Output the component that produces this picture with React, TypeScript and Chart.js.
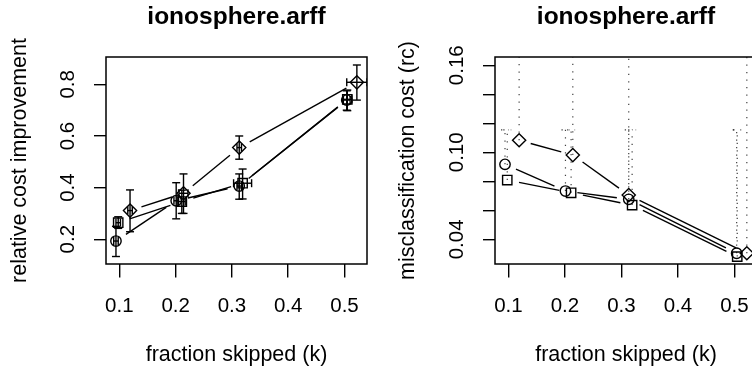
import React, { useEffect, useRef } from 'react';
import { Chart, registerables } from 'chart.js';

Chart.register(...registerables);

const FONT = "'Liberation Sans', Arial, Helvetica, sans-serif";
const TITLE = 'ionosphere.arff';

// shared x axis: fraction skipped (k)
const kTicks = [0.1, 0.2, 0.3, 0.4, 0.5];
const kMin = 0.0763;
const kMax = 0.54;

// x positions of each series
const kCircle = [0.094, 0.201, 0.313, 0.504];
const kSquare = [0.098, 0.211, 0.319, 0.505];
const kDiamond = [0.119, 0.214, 0.313, 0.522];

// horizontal error half-widths
const kErrCircle = [0.004, 0.004, 0.004, 0.006];
const kErrSquare = [0.004, 0.006, 0.016, 0.008];
const kErrDiamond = [0.004, 0.008, 0.004, 0.018];

// relative cost improvement (left panel)
const rciTicks = [0.2, 0.4, 0.6, 0.8];
const rciCircle = [0.193, 0.349, 0.406, 0.739];
const rciCircleLo = [0.133, 0.279, 0.355, 0.7];
const rciCircleHi = [0.25, 0.419, 0.453, 0.775];
const rciSquare = [0.264, 0.346, 0.417, 0.742];
const rciSquareLo = [0.242, 0.3, 0.356, 0.698];
const rciSquareHi = [0.287, 0.39, 0.472, 0.778];
const rciDiamond = [0.311, 0.378, 0.555, 0.808];
const rciDiamondLo = [0.229, 0.3, 0.51, 0.739];
const rciDiamondHi = [0.391, 0.453, 0.6, 0.875];

// misclassification cost (right panel)
const mcTicks = [0.04, 0.06, 0.08, 0.1, 0.12, 0.14, 0.16];
const mcLabelled = [0.04, 0.1, 0.16];
const mcCircle = [0.0917, 0.0733, 0.0676, 0.0304];
const mcCircleHi = [0.1155, 0.1155, 0.1155, 0.1155];
const mcSquare = [0.0809, 0.0721, 0.0636, 0.0281];
const mcSquareHi = [0.1155, 0.1155, 0.1155, 0.1155];
const mcDiamond = [0.1083, 0.0981, 0.0705, 0.0304];
const mcDiamondHi = [0.175, 0.175, 0.175, 0.175];

type Pt = { x: number; y: number; lo: number; hi: number; xe: number };

const pts = (xs: number[], ys: number[], lo: number[], hi: number[], xe: number[]): Pt[] =>
  xs.map((x, i) => ({ x, y: ys[i], lo: lo[i], hi: hi[i], xe: xe[i] }));

const line = (ctx: CanvasRenderingContext2D, x1: number, y1: number, x2: number, y2: number) => {
  ctx.beginPath();
  ctx.moveTo(x1, y1);
  ctx.lineTo(x2, y2);
  ctx.stroke();
};

// error bars, "both"-style connecting segments with gaps, and the frame
const rPlot = {
  id: 'rPlot',
  beforeDatasetsDraw(chart: any, _args: any, opts: any) {
    const { ctx, chartArea: a } = chart;
    const xs = chart.scales.x;
    const ys = chart.scales.y;
    const dotted = !!opts.dotted;
    const cap = 4;
    const gap = 12;
    ctx.save();
    ctx.beginPath();
    ctx.rect(a.left, a.top, a.right - a.left, a.bottom - a.top);
    ctx.clip();
    ctx.strokeStyle = '#000';
    chart.data.datasets.forEach((ds: any, i: number) => {
      const meta = chart.getDatasetMeta(i);
      // error bars
      if (dotted) {
        ctx.setLineDash([1.3, 6.2]);
        ctx.lineWidth = 1.2;
        ctx.strokeStyle = 'rgba(0,0,0,0.75)';
      } else {
        ctx.setLineDash([]);
        ctx.lineWidth = 1.4;
        ctx.strokeStyle = '#000';
      }
      ds.data.forEach((d: Pt) => {
        const px = xs.getPixelForValue(d.x);
        const py = ys.getPixelForValue(d.y);
        const yl = ys.getPixelForValue(d.lo);
        const yh = ys.getPixelForValue(d.hi);
        line(ctx, px, yl, px, yh);
        line(ctx, px - cap, yh, px + cap, yh);
        if (!dotted) line(ctx, px - cap, yl, px + cap, yl);
        if (d.xe > 0 && !dotted) {
          const xl = xs.getPixelForValue(d.x - d.xe);
          const xr = xs.getPixelForValue(d.x + d.xe);
          line(ctx, xl, py, xr, py);
          line(ctx, xl, py - cap, xl, py + cap);
          line(ctx, xr, py - cap, xr, py + cap);
        }
      });
      // connecting segments
      ctx.setLineDash([]);
      ctx.lineWidth = 1.4;
      ctx.strokeStyle = '#000';
      const el = meta.data;
      for (let j = 0; j < el.length - 1; j++) {
        const p0 = el[j];
        const p1 = el[j + 1];
        const dx = p1.x - p0.x;
        const dy = p1.y - p0.y;
        const len = Math.hypot(dx, dy);
        if (len <= 2 * gap) continue;
        const ux = dx / len;
        const uy = dy / len;
        line(ctx, p0.x + ux * gap, p0.y + uy * gap, p1.x - ux * gap, p1.y - uy * gap);
      }
    });
    ctx.restore();
  },
  afterDraw(chart: any) {
    const { ctx, chartArea: a } = chart;
    ctx.save();
    ctx.strokeStyle = '#000';
    ctx.lineWidth = 1.5;
    ctx.strokeRect(a.left, a.top, a.right - a.left, a.bottom - a.top);
    ctx.restore();
  },
};

const seriesStyle = (style: string, radius: number) => ({
  pointStyle: style,
  pointRadius: radius,
  pointHoverRadius: radius,
  pointBorderWidth: 1.4,
  borderColor: '#000',
  backgroundColor: 'rgba(0,0,0,0)',
  pointBackgroundColor: 'rgba(0,0,0,0)',
  pointBorderColor: '#000',
  showLine: false,
});

type PanelProps = {
  datasets: Pt[][];
  yMin: number;
  yMax: number;
  yTicks: number[];
  yFormat: (v: number) => string;
  yTitle: string;
  yWidth: number;
  yLabelPad: number;
  yTitlePad: number;
  dotted: boolean;
  width: number;
  padRight: number;
};

function Panel(p: PanelProps) {
  const ref = useRef<HTMLCanvasElement>(null);
  useEffect(() => {
    if (!ref.current) return;
    const styles: [string, number][] = [
      ['circle', 5.2],
      ['rect', 6.6],
      ['rectRot', 6.6],
    ];
    const chart = new Chart(ref.current, {
      type: 'scatter',
      data: {
        datasets: p.datasets.map((d, i) => ({
          data: d as any,
          ...seriesStyle(styles[i][0], styles[i][1]),
        })) as any,
      },
      options: {
        responsive: false,
        animation: false,
        events: [],
        layout: { padding: { left: 0, right: p.padRight, top: 0, bottom: 0 } },
        plugins: {
          legend: { display: false },
          tooltip: { enabled: false },
          title: {
            display: true,
            text: TITLE,
            color: '#000',
            fullSize: false,
            font: { family: FONT, size: 24.5, weight: 'bold' },
            padding: { top: 2.5, bottom: 25.1 },
          },
          rPlot: { dotted: p.dotted },
        } as any,
        scales: {
          x: {
            type: 'linear',
            position: 'bottom',
            min: kMin,
            max: kMax,
            afterBuildTicks: (s: any) => {
              s.ticks = kTicks.map((v) => ({ value: v }));
            },
            ticks: {
              autoSkip: false,
              maxRotation: 0,
              color: '#000',
              padding: 16.3,
              font: { family: FONT, size: 20.5 },
              callback: (v: any) => Number(v).toFixed(1),
            },
            grid: {
              display: true,
              drawOnChartArea: false,
              drawTicks: true,
              tickLength: 13.5,
              color: '#000',
              lineWidth: 1.4,
            },
            border: { display: false },
            title: {
              display: true,
              text: 'fraction skipped (k)',
              color: '#000',
              font: { family: FONT, size: 21.5 },
              padding: { top: 0, bottom: 0.6 },
            },
            afterFit: (s: any) => {
              s.height = 105;
            },
          },
          y: {
            type: 'linear',
            position: 'left',
            min: p.yMin,
            max: p.yMax,
            afterBuildTicks: (s: any) => {
              s.ticks = p.yTicks.map((v) => ({ value: v }));
            },
            ticks: {
              autoSkip: false,
              minRotation: 90,
              maxRotation: 90,
              crossAlign: 'center',
              color: '#000',
              padding: p.yLabelPad,
              font: { family: FONT, size: 20.5 },
              callback: (v: any) => p.yFormat(Number(v)),
            },
            grid: {
              display: true,
              drawOnChartArea: false,
              drawTicks: true,
              tickLength: 12,
              color: '#000',
              lineWidth: 1.4,
            },
            border: { display: false },
            title: {
              display: true,
              text: p.yTitle,
              color: '#000',
              font: { family: FONT, size: 21.5 },
              padding: { top: p.yTitlePad, bottom: 0 },
            },
            afterFit: (s: any) => {
              s.width = p.yWidth;
            },
          },
        },
      } as any,
      plugins: [rPlot as any],
    });
    return () => chart.destroy();
  }, []);
  return (
    <canvas
      ref={ref}
      width={p.width}
      height={369}
      style={{ display: 'block', width: p.width, height: 369 }}
    />
  );
}

const leftData = [
  pts(kCircle, rciCircle, rciCircleLo, rciCircleHi, kErrCircle),
  pts(kSquare, rciSquare, rciSquareLo, rciSquareHi, kErrSquare),
  pts(kDiamond, rciDiamond, rciDiamondLo, rciDiamondHi, kErrDiamond),
];

const rightData = [
  pts(kCircle, mcCircle, mcCircle, mcCircleHi, kErrCircle),
  pts(kSquare, mcSquare, mcSquare, mcSquareHi, kErrSquare),
  pts(kDiamond, mcDiamond, mcDiamond, mcDiamondHi, kErrDiamond),
];

export default function App() {
  return (
    <div
      style={{
        position: 'absolute',
        left: 0,
        top: 0,
        width: 752,
        height: 369,
        overflow: 'hidden',
        background: '#fff',
      }}
    >
      <div style={{ position: 'absolute', left: 0, top: 0 }}>
        <Panel
          datasets={leftData}
          yMin={0.104}
          yMax={0.906}
          yTicks={rciTicks}
          yFormat={(v) => v.toFixed(1)}
          yTitle="relative cost improvement"
          yWidth={106}
          yLabelPad={11.75}
          yTitlePad={7.1}
          dotted={false}
          width={376}
          padRight={9}
        />
      </div>
      <div style={{ position: 'absolute', left: 376, top: 0 }}>
        <Panel
          datasets={rightData}
          yMin={0.023}
          yMax={0.1657}
          yTicks={mcTicks}
          yFormat={(v) => (mcLabelled.some((l) => Math.abs(l - v) < 1e-9) ? v.toFixed(2) : '')}
          yTitle="misclassification cost (rc)"
          yWidth={119}
          yLabelPad={5.65}
          yTitlePad={18.7}
          dotted={true}
          width={390}
          padRight={9}
        />
      </div>
    </div>
  );
}
